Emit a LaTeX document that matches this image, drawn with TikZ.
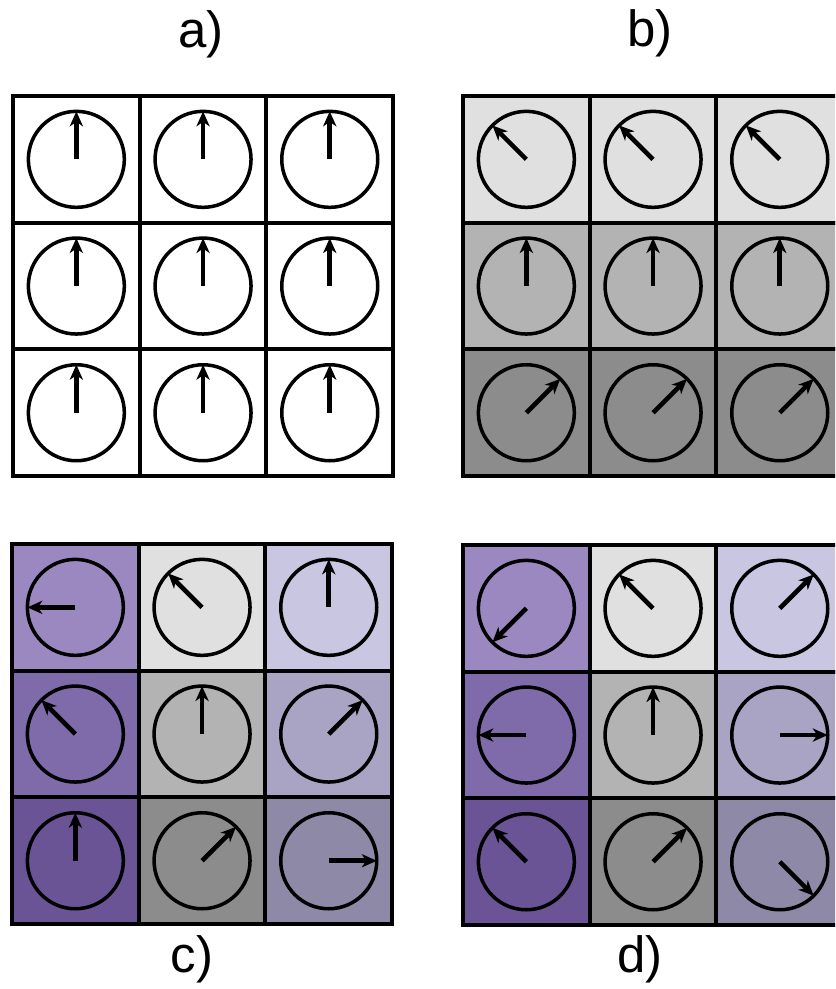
\documentclass[tikz,border=0pt]{standalone}
\usepackage{xcolor}
\usepackage{fontspec}
\setmainfont{Liberation Sans}
\usepackage{tikz}
\usetikzlibrary{arrows.meta, positioning}
\definecolor{SpinGrayLight}{RGB}{224, 224, 224}
\definecolor{SpinGrayMid}{RGB}{179, 179, 179}
\definecolor{SpinGrayDark}{RGB}{140, 140, 140}
\definecolor{SpinPurpleLight}{RGB}{156, 136, 193}
\definecolor{SpinPurpleMid}{RGB}{127, 106, 170}
\definecolor{SpinPurpleDark}{RGB}{106, 84, 149}
\definecolor{SpinLavLight}{RGB}{201, 198, 225}
\definecolor{SpinLavMid}{RGB}{169, 163, 196}
\definecolor{SpinLavDark}{RGB}{142, 137, 167}

\tikzset{
  cellbox/.style={draw=black, line width=2.2pt, minimum size=2.534cm,
    inner sep=0pt, outer sep=0pt},
  dial/.style={draw=black, line width=2pt},
  needle/.style={draw=black, line width=2.6pt,
    -{Stealth[length=8.5pt, width=7.5pt, inset=2.5pt]}},
  panellabel/.style={anchor=base, inner sep=0pt,
    font=\fontsize{29}{34}\selectfont}
}

% one 3x3 panel: name, left, top, list of fill/angle (row by row)
\newcommand{\spinpanel}[4]{%
  \foreach [count=\k from 0] \tone/\dir in {#4} {
    \pgfmathtruncatemacro{\cx}{mod(\k,3)}
    \pgfmathtruncatemacro{\cy}{floor(\k/3)}
    \node[cellbox, fill=\tone] (#1-\cx-\cy)
      at ({#2+63.35+126.7*\cx}, {#3+63.35+126.7*\cy}) {};
    \draw[dial] (#1-\cx-\cy.center) circle[radius=0.96cm];
    \draw[needle] (#1-\cx-\cy.center) -- ++(\dir:0.96cm);
  }%
}

\begin{document}
\begin{tikzpicture}[x=0.02cm, y=-0.02cm]
  \useasboundingbox (0,0) rectangle (835,989);
  \clip (0,0) rectangle (835,989);

  % a) all aligned
  \spinpanel{a}{13}{96}{white/90, white/90, white/90,
    white/90, white/90, white/90, white/90, white/90, white/90}
  % b) rows rotated
  \spinpanel{b}{463}{96}{SpinGrayLight/135, SpinGrayLight/135, SpinGrayLight/135,
    SpinGrayMid/90, SpinGrayMid/90, SpinGrayMid/90,
    SpinGrayDark/45, SpinGrayDark/45, SpinGrayDark/45}
  % c)
  \spinpanel{c}{12}{544}{SpinPurpleLight/180, SpinGrayLight/135, SpinLavLight/90,
    SpinPurpleMid/135, SpinGrayMid/90, SpinLavMid/45,
    SpinPurpleDark/90, SpinGrayDark/45, SpinLavDark/0}
  % d)
  \spinpanel{d}{463}{545}{SpinPurpleLight/225, SpinGrayLight/135, SpinLavLight/45,
    SpinPurpleMid/180, SpinGrayMid/90, SpinLavMid/0,
    SpinPurpleDark/135, SpinGrayDark/45, SpinLavDark/315}

  \node[panellabel] (lbl-a) at (201, 48) {a)};
  \node[panellabel] (lbl-b) at (650, 47) {b)};
  \node[panellabel] (lbl-c) at (192, 972) {c)};
  \node[panellabel] (lbl-d) at (640, 972) {d)};
\end{tikzpicture}
\end{document}
